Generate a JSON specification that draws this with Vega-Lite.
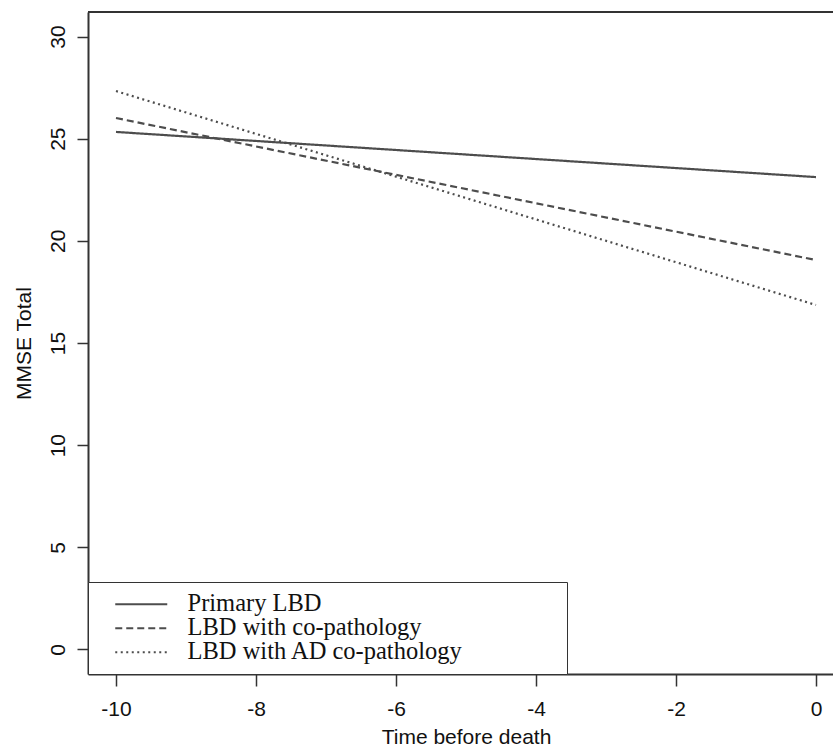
{
  "$schema": "https://vega.github.io/schema/vega-lite/v6.json",
  "width": 745,
  "height": 662,
  "autosize": {"type": "none"},
  "padding": {"left": 88, "top": 12, "right": 0, "bottom": 73},
  "background": "white",
  "config": {"view": {"stroke": null}, "font": "Liberation Sans"},
  "data": {
    "values": [
      {"group": "Primary LBD", "time": -10, "mmse": 25.33},
      {"group": "Primary LBD", "time": 0, "mmse": 23.12},
      {"group": "LBD with co-pathology", "time": -10, "mmse": 26.01},
      {"group": "LBD with co-pathology", "time": 0, "mmse": 19.06},
      {"group": "LBD with AD co-pathology", "time": -10, "mmse": 27.33},
      {"group": "LBD with AD co-pathology", "time": 0, "mmse": 16.86}
    ]
  },
  "layer": [
    {
      "mark": {"type": "line", "color": "#4d4d4d", "strokeWidth": 2.2},
      "encoding": {
        "x": {
          "field": "time",
          "type": "quantitative",
          "scale": {"domain": [-10.4, 0.243], "nice": false, "zero": false},
          "axis": {
            "values": [-10, -8, -6, -4, -2, 0],
            "labelExpr": "datum.value < 0 ? '-' + abs(datum.value) : '' + datum.value",
            "title": "Time before death",
            "grid": false,
            "domainColor": "#333333",
            "domainWidth": 2,
            "tickColor": "#333333",
            "tickWidth": 1.5,
            "tickSize": 12,
            "labelFont": "Liberation Sans",
            "labelFontSize": 21,
            "labelColor": "#111111",
            "labelBaseline": "alphabetic",
            "labelPadding": 29,
            "labelFlush": false,
            "labelOverlap": false,
            "titleFont": "Liberation Sans",
            "titleFontSize": 21,
            "titleFontWeight": "normal",
            "titleColor": "#111111",
            "titleX": 378,
            "titleY": 69,
            "titleAlign": "center",
            "titleBaseline": "alphabetic"
          }
        },
        "y": {
          "field": "mmse",
          "type": "quantitative",
          "scale": {"domain": [-1.2, 31.2], "nice": false, "zero": false},
          "axis": {
            "values": [0, 5, 10, 15, 20, 25, 30],
            "title": "MMSE Total",
            "grid": false,
            "domainColor": "#333333",
            "domainWidth": 2,
            "tickColor": "#333333",
            "tickWidth": 1.5,
            "tickSize": 11,
            "labelFont": "Liberation Sans",
            "labelFontSize": 21,
            "labelColor": "#111111",
            "labelAngle": 270,
            "labelAlign": "center",
            "labelBaseline": "alphabetic",
            "labelPadding": 13,
            "labelFlush": false,
            "labelOverlap": false,
            "titleFont": "Liberation Sans",
            "titleFontSize": 21,
            "titleFontWeight": "normal",
            "titleColor": "#111111",
            "titleAngle": 270,
            "titleX": -58,
            "titleY": 331,
            "titleAlign": "center",
            "titleBaseline": "alphabetic"
          }
        },
        "strokeDash": {
          "field": "group",
          "type": "nominal",
          "scale": {
            "domain": ["Primary LBD", "LBD with co-pathology", "LBD with AD co-pathology"],
            "range": [[1, 0], [7, 4], [2, 3.5]]
          },
          "legend": {
            "orient": "none",
            "legendX": 0,
            "legendY": 570,
            "title": "\u00a0",
            "titleOrient": "right",
            "titlePadding": 94,
            "titleFontSize": 11,
            "direction": "vertical",
            "strokeColor": "#333333",
            "fillColor": "white",
            "padding": 10,
            "symbolOffset": 31,
            "symbolType": "M-2.6,0L2.6,0",
            "symbolSize": 400,
            "symbolStrokeWidth": 2,
            "symbolStrokeColor": "#4d4d4d",
            "symbolFillColor": "transparent",
            "labelFont": "Liberation Serif",
            "labelFontSize": 24.5,
            "labelColor": "#111111",
            "labelOffset": 34,
            "labelLimit": 1000,
            "rowPadding": -1.5
          }
        }
      }
    },
    {
      "mark": {"type": "rule", "color": "#333333", "strokeWidth": 2},
      "encoding": {"y": {"datum": 31.2}}
    }
  ]
}
